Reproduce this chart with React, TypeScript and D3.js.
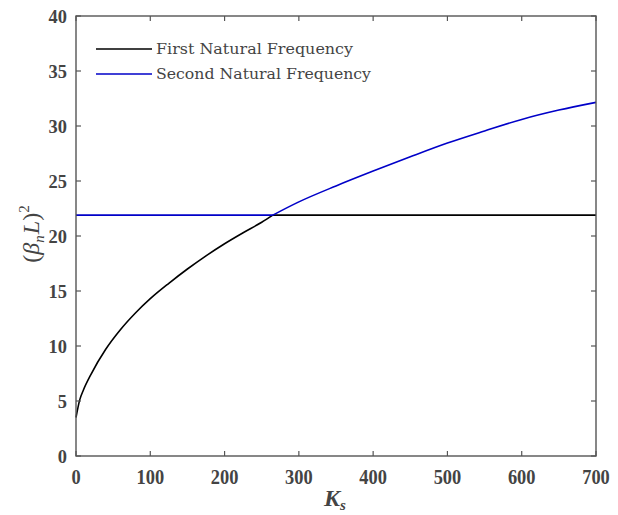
import React, { useRef, useEffect } from 'react';
import * as d3 from 'd3';

// read-off values of (beta_n L)^2 against Ks
const plateau = 21.9;
const crossK = 265;
const lowBranchK = [0, 5, 10, 20, 40, 60, 80, 100, 125, 150, 175, 200, 225, 250, 265];
const lowBranch = [3.5, 5.1, 6.0, 7.4, 9.7, 11.5, 13.0, 14.3, 15.7, 17.0, 18.2, 19.3, 20.3, 21.25, 21.9];
const highBranchK = [265, 300, 350, 400, 450, 500, 550, 600, 650, 700];
const highBranch = [21.9, 23.1, 24.55, 25.9, 27.2, 28.45, 29.55, 30.6, 31.45, 32.15];
const seriesNames = ['First Natural Frequency', 'Second Natural Frequency'];
const seriesColors = ['#000000', '#0000c8'];
const xTicks = [0, 100, 200, 300, 400, 500, 600, 700];
const yTicks = [0, 5, 10, 15, 20, 25, 30, 35, 40];

function App() {
  const ref = useRef<SVGSVGElement>(null);

  useEffect(() => {
    const svg = d3.select(ref.current);
    svg.selectAll('*').remove();

    const left = 76, right = 596, top = 16, bottom = 456;
    const x = d3.scaleLinear().domain([0, 700]).range([left, right]);
    const y = d3.scaleLinear().domain([0, 40]).range([bottom, top]);
    const axisColor = '#555';
    const textColor = '#444';

    const line = d3.line<[number, number]>()
      .x(d => x(d[0]))
      .y(d => y(d[1]))
      .curve(d3.curveMonotoneX);
    const pts = (ks: number[], vs: number[]) => ks.map((k, j) => [k, vs[j]] as [number, number]);

    // first = rising branch then plateau; second = plateau then rising branch
    const firstD = line(pts(lowBranchK, lowBranch)) + line([[crossK, plateau], [700, plateau]]);
    const secondD = line([[0, plateau], [crossK, plateau]]) + line(pts(highBranchK, highBranch));

    [firstD, secondD].forEach((d, i) => {
      svg.append('path')
        .attr('d', d)
        .attr('fill', 'none')
        .attr('stroke', seriesColors[i])
        .attr('stroke-width', 1.6);
    });

    // box
    svg.append('rect')
      .attr('x', left).attr('y', top)
      .attr('width', right - left).attr('height', bottom - top)
      .attr('fill', 'none')
      .attr('stroke', axisColor)
      .attr('stroke-width', 1.4);

    const tickLen = 5;
    xTicks.forEach(t => {
      svg.append('line').attr('x1', x(t)).attr('x2', x(t)).attr('y1', bottom).attr('y2', bottom - tickLen)
        .attr('stroke', axisColor).attr('stroke-width', 1.2);
      svg.append('line').attr('x1', x(t)).attr('x2', x(t)).attr('y1', top).attr('y2', top + tickLen)
        .attr('stroke', axisColor).attr('stroke-width', 1.2);
      const s = String(t);
      svg.append('text')
        .attr('x', x(t)).attr('y', 484)
        .attr('text-anchor', 'middle')
        .attr('font-family', 'Liberation Serif')
        .attr('font-weight', 'bold')
        .attr('font-size', 21)
        .attr('fill', textColor)
        .attr('textLength', s.length * 9.2)
        .attr('lengthAdjust', 'spacingAndGlyphs')
        .text(s);
    });

    yTicks.forEach(t => {
      svg.append('line').attr('x1', left).attr('x2', left + tickLen).attr('y1', y(t)).attr('y2', y(t))
        .attr('stroke', axisColor).attr('stroke-width', 1.2);
      svg.append('line').attr('x1', right).attr('x2', right - tickLen).attr('y1', y(t)).attr('y2', y(t))
        .attr('stroke', axisColor).attr('stroke-width', 1.2);
      const s = String(t);
      svg.append('text')
        .attr('x', 67).attr('y', y(t) + 6.5)
        .attr('text-anchor', 'end')
        .attr('font-family', 'Liberation Serif')
        .attr('font-weight', 'bold')
        .attr('font-size', 19)
        .attr('fill', textColor)
        .attr('textLength', s.length * 9.2)
        .attr('lengthAdjust', 'spacingAndGlyphs')
        .text(s);
    });

    // x label K_s
    const xl = svg.append('text')
      .attr('x', 335).attr('y', 506)
      .attr('text-anchor', 'middle')
      .attr('font-family', 'Liberation Serif')
      .attr('font-style', 'italic')
      .attr('font-weight', 'bold')
      .attr('font-size', 24)
      .attr('fill', textColor);
    xl.append('tspan').text('K');
    xl.append('tspan').attr('font-size', 15).attr('dy', 4).text('s');

    // y label (beta_n L)^2
    const yl = svg.append('text')
      .attr('transform', 'translate(39,234) rotate(-90)')
      .attr('text-anchor', 'middle')
      .attr('font-family', 'Liberation Serif')
      .attr('font-size', 24)
      .attr('fill', textColor);
    yl.append('tspan').text('(');
    yl.append('tspan').attr('font-style', 'italic').text('β');
    yl.append('tspan').attr('font-style', 'italic').attr('font-size', 15).attr('dy', 5).text('n');
    yl.append('tspan').attr('font-style', 'italic').attr('dx', 1).attr('dy', -5).text('L');
    yl.append('tspan').text(')');
    yl.append('tspan').attr('font-size', 15).attr('dy', -10).text('2');

    // legend
    seriesNames.forEach((name, i) => {
      const ly = 49 + i * 25;
      svg.append('line')
        .attr('x1', 96).attr('x2', 152).attr('y1', ly).attr('y2', ly)
        .attr('stroke', seriesColors[i]).attr('stroke-width', 1.6);
      svg.append('text')
        .attr('x', 156).attr('y', ly + 5)
        .attr('font-family', 'DejaVu Serif')
        .attr('font-size', 15)
        .attr('fill', textColor)
        .attr('textLength', i === 0 ? 197 : 215)
        .attr('lengthAdjust', 'spacingAndGlyphs')
        .text(name);
    });
  }, []);

  return (
    <svg ref={ref} width={618} height={515}
      style={{ position: 'absolute', left: 0, top: 0, background: '#fff' }} />
  );
}

export default App;
